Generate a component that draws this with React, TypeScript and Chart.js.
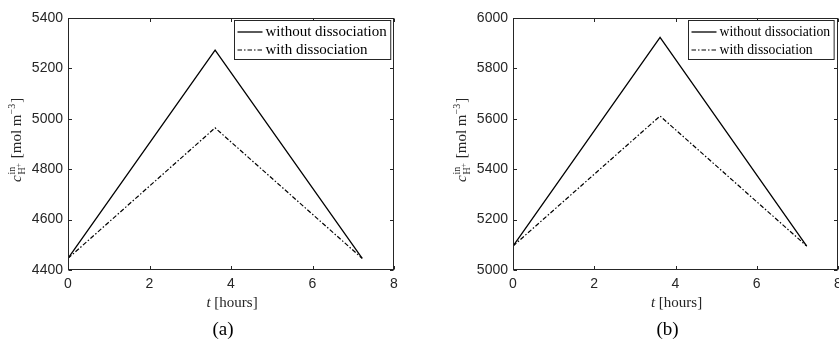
import React, { useEffect, useRef } from "react";
import { Chart, registerables } from "chart.js";

Chart.register(...registerables);

// ---- data ----
const timeA = [0, 3.61, 7.22];
const withoutA = [4446, 5273, 4446];
const withA = [4446, 4964, 4446];

const timeB = [0, 3.62, 7.23];
const withoutB = [5095, 5923, 5095];
const withB = [5095, 5611, 5095];

const xTicks = [0, 2, 4, 6, 8];
const yTicksA = [4400, 4600, 4800, 5000, 5200, 5400];
const yTicksB = [5000, 5200, 5400, 5600, 5800, 6000];

const seriesLabels = ["without dissociation", "with dissociation"];
const panelLabels = ["(a)", "(b)"];

const AXIS = "#262626";
const SERIF = "'Liberation Serif', 'Times New Roman', serif";
const SANS = "'Liberation Sans', Arial, Helvetica, sans-serif";

function drawYLabel(ctx: CanvasRenderingContext2D, cx: number, cy: number) {
  const main = 15;
  const small = 10;
  const tiny = 7.5;
  ctx.font = `italic ${main}px ${SERIF}`;
  const wc = ctx.measureText("c").width;
  ctx.font = `${small}px ${SERIF}`;
  const wIn = ctx.measureText("in").width;
  const wH = ctx.measureText("H").width;
  ctx.font = `${tiny}px ${SERIF}`;
  const wPlus = ctx.measureText("+").width;
  const wScript = Math.max(wIn, wH + wPlus) + 1;
  ctx.font = `${main}px ${SERIF}`;
  const wMol = ctx.measureText(" [mol m").width;
  ctx.font = `${small}px ${SERIF}`;
  const wExp = ctx.measureText("\u22123").width;
  ctx.font = `${main}px ${SERIF}`;
  const wBr = ctx.measureText("]").width;
  const total = wc + 1 + wScript + wMol + wExp + 1 + wBr;

  ctx.save();
  ctx.translate(cx, cy);
  ctx.rotate(-Math.PI / 2);
  ctx.fillStyle = AXIS;
  ctx.textBaseline = "alphabetic";
  ctx.textAlign = "left";
  let x = -total / 2;
  ctx.font = `italic ${main}px ${SERIF}`;
  ctx.fillText("c", x, 0);
  x += wc + 1;
  ctx.font = `${small}px ${SERIF}`;
  ctx.fillText("in", x, -6);
  ctx.fillText("H", x, 4);
  ctx.font = `${tiny}px ${SERIF}`;
  ctx.fillText("+", x + wH, 0);
  x += wScript;
  ctx.font = `${main}px ${SERIF}`;
  ctx.fillText(" [mol m", x, 0);
  x += wMol;
  ctx.font = `${small}px ${SERIF}`;
  ctx.fillText("\u22123", x, -6);
  x += wExp + 1;
  ctx.font = `${main}px ${SERIF}`;
  ctx.fillText("]", x, 0);
  ctx.restore();
}

function makePlugin(panelLabel: string, legendFont: number) {
  return {
    id: "matlabDecor",
    afterDraw(chart: any) {
      const ctx: CanvasRenderingContext2D = chart.ctx;
      const ca = chart.chartArea;
      const xs = chart.scales.x;
      const ys = chart.scales.y;
      ctx.save();
      // box
      ctx.strokeStyle = AXIS;
      ctx.lineWidth = 1;
      const L = Math.round(ca.left) + 0.5;
      const R = Math.round(ca.right) - 0.5;
      const T = Math.round(ca.top) + 0.5;
      const B = Math.round(ca.bottom) - 0.5;
      ctx.strokeRect(L, T, R - L, B - T);
      // inward ticks
      const tl = 3.5;
      ctx.beginPath();
      xTicks.forEach((v) => {
        const px = Math.round(xs.getPixelForValue(v)) + 0.5;
        ctx.moveTo(px, B);
        ctx.lineTo(px, B - tl);
        ctx.moveTo(px, T);
        ctx.lineTo(px, T + tl);
      });
      (ys.ticks || []).forEach((t: any) => {
        const py = Math.round(ys.getPixelForValue(t.value)) + 0.5;
        ctx.moveTo(L, py);
        ctx.lineTo(L + tl, py);
        ctx.moveTo(R, py);
        ctx.lineTo(R - tl, py);
      });
      ctx.stroke();

      // legend
      ctx.font = `${legendFont}px ${SERIF}`;
      const dsets = chart.data.datasets;
      let maxW = 0;
      dsets.forEach((d: any) => {
        maxW = Math.max(maxW, ctx.measureText(d.label).width);
      });
      const lineStart = 3;
      const lineLen = 25;
      const textStart = 31;
      const boxW = textStart + maxW + 4;
      const boxH = 39;
      const bx = Math.round(ca.right - 4 - boxW) + 0.5;
      const by = Math.round(ca.top + 1.7) + 0.5;
      ctx.fillStyle = "#ffffff";
      ctx.fillRect(bx, by, boxW, boxH);
      ctx.strokeStyle = AXIS;
      ctx.lineWidth = 1;
      ctx.strokeRect(bx, by, boxW, boxH);
      dsets.forEach((d: any, i: number) => {
        const cy = by + 11.5 + i * 18;
        ctx.save();
        ctx.strokeStyle = d.borderColor;
        ctx.lineWidth = d.borderWidth;
        ctx.setLineDash(d.borderDash || []);
        ctx.beginPath();
        ctx.moveTo(bx + lineStart, cy);
        ctx.lineTo(bx + lineStart + lineLen, cy);
        ctx.stroke();
        ctx.restore();
        ctx.fillStyle = "#000000";
        ctx.textAlign = "left";
        ctx.textBaseline = "middle";
        ctx.font = `${legendFont}px ${SERIF}`;
        ctx.fillText(d.label, bx + textStart, cy + 0.5);
      });

      // x-axis title: t [hours]
      const cxm = (ca.left + ca.right) / 2;
      ctx.fillStyle = AXIS;
      ctx.textBaseline = "alphabetic";
      ctx.textAlign = "left";
      ctx.font = `italic 15px ${SERIF}`;
      const wt = ctx.measureText("t").width;
      ctx.font = `15px ${SERIF}`;
      const wr = ctx.measureText(" [hours]").width;
      const x0 = cxm + 1 - (wt + wr) / 2;
      ctx.font = `italic 15px ${SERIF}`;
      ctx.fillText("t", x0, ca.bottom + 37);
      ctx.font = `15px ${SERIF}`;
      ctx.fillText(" [hours]", x0 + wt, ca.bottom + 37);

      // y-axis title
      drawYLabel(ctx, ca.left - 47, (ca.top + ca.bottom) / 2 - 4);

      // panel label
      ctx.fillStyle = "#000000";
      ctx.textAlign = "center";
      ctx.font = `19px ${SERIF}`;
      ctx.fillText(panelLabel, cxm - 8, ca.bottom + 65);
      ctx.restore();
    },
  };
}

type PanelProps = {
  left: number;
  time: number[];
  without: number[];
  withD: number[];
  yTicks: number[];
  panelLabel: string;
  padLeft: number;
  padRight: number;
  legendFont: number;
};

function Panel(p: PanelProps) {
  const ref = useRef<HTMLCanvasElement | null>(null);
  useEffect(() => {
    if (!ref.current) return;
    const toPts = (xs: number[], ys: number[]) => xs.map((x, i) => ({ x, y: ys[i] }));
    const chart = new Chart(ref.current, {
      type: "scatter",
      data: {
        datasets: [
          {
            label: seriesLabels[0],
            data: toPts(p.time, p.without),
            showLine: true,
            borderColor: "#000000",
            backgroundColor: "#000000",
            borderWidth: 1.3,
            pointRadius: 0,
            tension: 0,
          },
          {
            label: seriesLabels[1],
            data: toPts(p.time, p.withD),
            showLine: true,
            borderColor: "#000000",
            backgroundColor: "#000000",
            borderWidth: 1.2,
            borderDash: [4.5, 2, 1.5, 2],
            pointRadius: 0,
            tension: 0,
          },
        ],
      } as any,
      options: {
        responsive: false,
        animation: false,
        devicePixelRatio: 1,
        layout: { padding: { left: p.padLeft, right: p.padRight, top: 18, bottom: 0 } },
        plugins: { legend: { display: false }, tooltip: { enabled: false } },
        scales: {
          x: {
            type: "linear",
            min: xTicks[0],
            max: xTicks[xTicks.length - 1],
            grid: { display: false, drawTicks: false },
            border: { display: false },
            ticks: {
              color: AXIS,
              font: { family: SANS, size: 14 },
              padding: 6,
              callback: (v: any) => String(v),
            },
            afterBuildTicks: (s: any) => {
              s.ticks = xTicks.map((v) => ({ value: v }));
            },
            afterFit: (s: any) => {
              s.height = 73;
            },
          },
          y: {
            type: "linear",
            min: p.yTicks[0],
            max: p.yTicks[p.yTicks.length - 1],
            grid: { display: false, drawTicks: false },
            border: { display: false },
            ticks: {
              color: AXIS,
              font: { family: SANS, size: 14 },
              padding: 5,
              callback: (v: any) => String(v),
            },
            afterBuildTicks: (s: any) => {
              s.ticks = p.yTicks.map((v) => ({ value: v }));
            },
            afterFit: (s: any) => {
              s.width = 68;
            },
          },
        },
      } as any,
      plugins: [makePlugin(p.panelLabel, p.legendFont)],
    });
    return () => chart.destroy();
  }, []);
  return (
    <canvas
      ref={ref}
      width={440}
      height={343}
      style={{ position: "absolute", left: p.left, top: 0, width: 440, height: 343 }}
    />
  );
}

export default function App() {
  return (
    <div
      style={{
        position: "absolute",
        left: 0,
        top: 0,
        width: 839,
        height: 343,
        overflow: "hidden",
        background: "#ffffff",
      }}
    >
      <Panel
        left={0}
        time={timeA}
        without={withoutA}
        withD={withA}
        yTicks={yTicksA}
        panelLabel={panelLabels[0]}
        padLeft={0}
        padRight={46}
        legendFont={15}
      />
      <Panel
        left={420}
        time={timeB}
        without={withoutB}
        withD={withB}
        yTicks={yTicksB}
        panelLabel={panelLabels[1]}
        padLeft={25}
        padRight={22}
        legendFont={13.7}
      />
    </div>
  );
}
